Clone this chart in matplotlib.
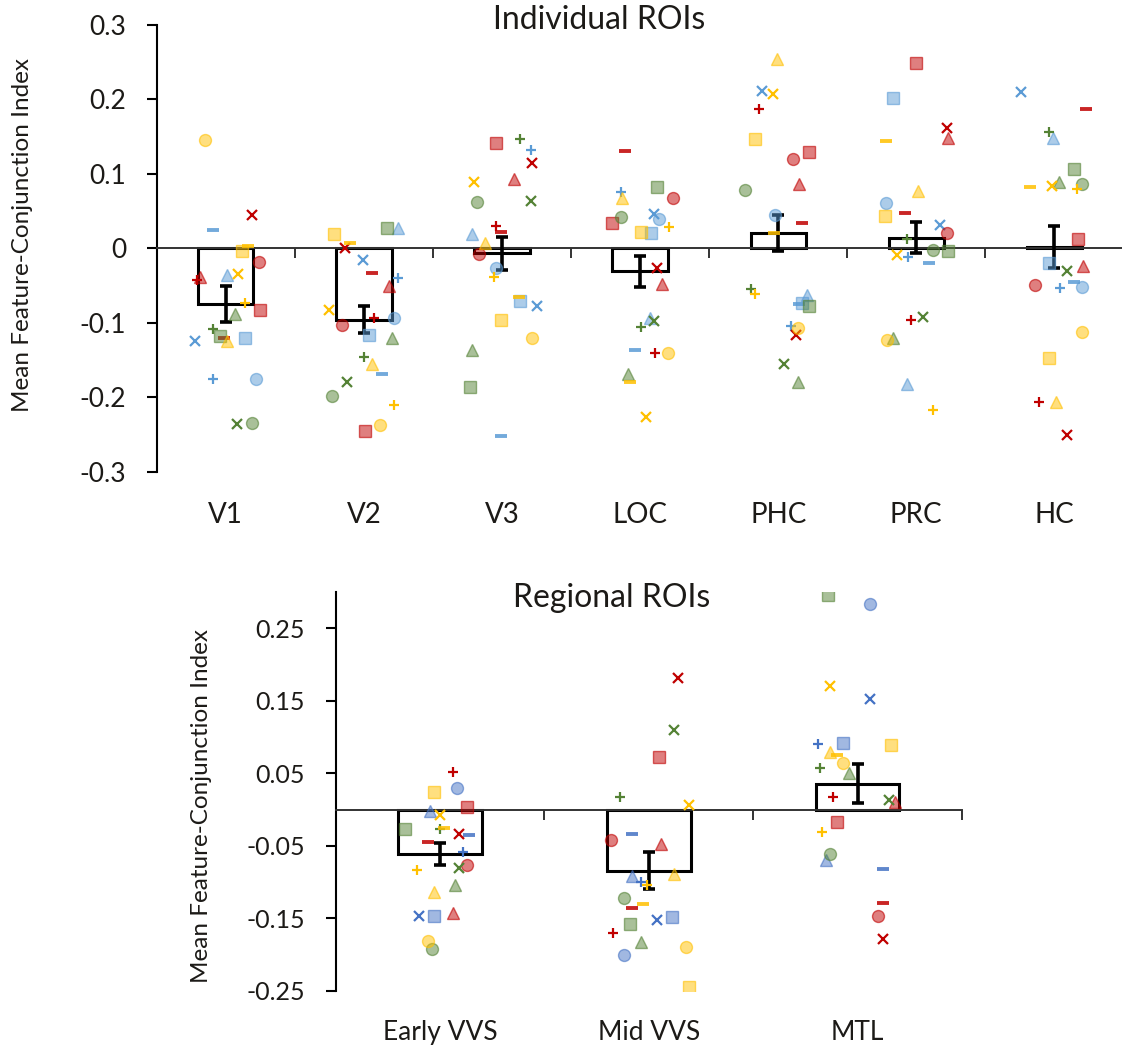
import numpy as np
import matplotlib
matplotlib.use("Agg")
import matplotlib.pyplot as plt
from matplotlib.colors import to_rgba
from matplotlib.transforms import blended_transform_factory

plt.rcParams["font.family"] = ["Lato", "DejaVu Sans"]
plt.rcParams["axes.unicode_minus"] = False
TEXT = "#1c1a17"

# ---- data ----
individual_rois = ["V1", "V2", "V3", "LOC", "PHC", "PRC", "HC"]
regional_rois = ["Early VVS", "Mid VVS", "MTL"]

individual_means = [-0.075, -0.096, -0.007, -0.031, 0.020, 0.014, 0.002]
individual_sems = [0.024, 0.018, 0.022, 0.021, 0.024, 0.021, 0.028]
regional_means = [-0.061, -0.084, 0.036]
regional_sems = [0.015, 0.025, 0.027]

individual_yticks = [-0.3, -0.2, -0.1, 0, 0.1, 0.2, 0.3]
individual_ylabels = ["-0.3", "-0.2", "-0.1", "0", "0.1", "0.2", "0.3"]
regional_yticks = [-0.25, -0.15, -0.05, 0.05, 0.15, 0.25]
regional_ylabels = ["-0.25", "-0.15", "-0.05", "0.05", "0.15", "0.25"]

# 23 participants, each with its own colour + marker
subj_colors = ["blue"] * 6 + ["red"] * 6 + ["green"] * 5 + ["yellow"] * 6
subj_markers = (["o", "s", "^", "x", "+", "_"] * 2
                + ["o", "s", "^", "x", "+"]
                + ["o", "s", "^", "x", "+", "_"])

# participant scores per ROI (order: blue o s ^ x + _, red o s ^ x + _,
# green o s ^ x +, yellow o s ^ x + _)
v1 = [-0.176, -0.120, -0.036, -0.124, -0.176, 0.024,
      -0.019, -0.083, -0.039, 0.044, -0.043, -0.120,
      -0.234, -0.118, -0.089, -0.236, -0.108,
      0.145, -0.004, -0.124, -0.034, -0.073, 0.003]
v2 = [-0.094, -0.116, 0.027, -0.016, -0.040, -0.169,
      -0.103, -0.246, -0.051, 0.000, -0.094, -0.033,
      -0.198, 0.027, -0.120, -0.180, -0.146,
      -0.237, 0.019, -0.155, -0.083, -0.210, 0.007]
v3 = [-0.026, -0.071, 0.019, -0.078, 0.132, -0.252,
      -0.008, 0.141, 0.093, 0.114, 0.030, 0.022,
      0.062, -0.186, -0.136, 0.063, 0.146,
      -0.120, -0.096, 0.007, 0.089, -0.039, -0.066]
loc = [0.039, 0.021, -0.094, 0.046, 0.075, -0.137,
       0.067, 0.034, -0.048, -0.027, -0.141, 0.131,
       0.042, 0.082, -0.169, -0.098, -0.106,
       -0.141, 0.022, 0.067, -0.226, 0.029, -0.180]
phc = [0.045, -0.073, -0.063, 0.211, -0.105, -0.075,
       0.120, 0.129, 0.086, -0.117, 0.187, 0.034,
       0.078, -0.078, -0.179, -0.156, -0.055,
       -0.107, 0.147, 0.254, 0.207, -0.061, 0.020]
prc = [0.061, 0.202, -0.182, 0.031, -0.012, -0.020,
       0.020, 0.249, 0.148, 0.161, -0.097, 0.047,
       -0.003, -0.004, -0.121, -0.093, 0.013,
       -0.123, 0.043, 0.077, -0.009, -0.217, 0.144]
hc = [-0.052, -0.020, 0.148, 0.210, -0.054, -0.046,
      -0.050, 0.013, -0.024, -0.251, -0.206, 0.187,
      0.086, 0.106, 0.089, -0.031, 0.156,
      -0.113, -0.148, -0.207, 0.084, 0.079, 0.082]
early_vvs = [0.030, -0.147, -0.002, -0.146, -0.058, -0.035,
             -0.076, 0.004, -0.143, -0.033, 0.052, -0.045,
             -0.192, -0.027, -0.104, -0.081, -0.027,
             -0.181, 0.025, -0.114, -0.008, -0.083, -0.025]
mid_vvs = [-0.200, -0.148, -0.092, -0.152, -0.100, -0.034,
           -0.042, 0.072, -0.048, 0.182, -0.170, -0.135,
           -0.122, -0.157, -0.182, 0.110, 0.017,
           -0.190, -0.244, -0.088, 0.006, -0.104, -0.130]
mtl = [0.284, 0.092, -0.069, 0.153, 0.090, -0.082,
       -0.147, -0.017, 0.011, -0.179, 0.017, -0.128,
       -0.061, 0.296, 0.050, 0.014, 0.057,
       0.065, 0.089, 0.079, 0.170, -0.031, 0.076]

# horizontal jitter of each marker (fraction of category width)
v1_jit = [0.22, 0.14, 0.01, -0.22, -0.09, -0.09,
          0.24, 0.25, -0.19, 0.19, -0.21, -0.01,
          0.19, -0.04, 0.07, 0.08, -0.09,
          -0.15, 0.12, 0.01, 0.09, 0.14, 0.16]
v2_jit = [0.22, 0.04, 0.25, -0.01, 0.25, 0.13,
          -0.16, 0.01, 0.18, -0.14, 0.07, 0.06,
          -0.23, 0.17, 0.20, -0.12, 0.00,
          0.12, -0.22, 0.06, -0.25, 0.22, -0.10]
v3_jit = [-0.04, 0.13, -0.22, 0.25, 0.21, -0.01,
          -0.17, -0.04, 0.09, 0.22, -0.04, -0.01,
          -0.18, -0.23, -0.22, 0.21, 0.13,
          0.22, -0.01, -0.12, -0.20, -0.06, 0.12]
loc_jit = [0.14, 0.08, 0.07, 0.10, -0.14, -0.04,
           0.24, -0.20, 0.16, 0.12, 0.11, -0.11,
           -0.14, 0.12, -0.09, 0.10, 0.01,
           0.20, 0.01, -0.13, 0.04, 0.21, -0.07]
phc_jit = [-0.02, 0.17, 0.21, -0.12, 0.09, 0.15,
           0.11, 0.22, 0.15, 0.13, -0.14, 0.17,
           -0.24, 0.22, 0.14, 0.04, -0.20,
           0.14, -0.17, -0.01, -0.04, -0.17, -0.03]
prc_jit = [-0.22, -0.17, -0.07, 0.17, -0.06, 0.09,
           0.22, 0.00, 0.23, 0.22, -0.04, -0.08,
           0.12, 0.23, -0.17, 0.05, -0.07,
           -0.21, -0.23, 0.01, -0.14, 0.12, -0.22]
hc_jit = [0.20, -0.04, -0.01, -0.24, 0.04, 0.14,
          -0.14, 0.17, 0.21, 0.09, -0.11, 0.23,
          0.20, 0.14, 0.03, 0.09, -0.04,
          0.20, -0.04, 0.01, -0.02, 0.16, -0.18]
early_jit = [0.08, -0.03, -0.05, -0.10, 0.11, 0.14,
             0.13, 0.13, 0.06, 0.09, 0.06, -0.06,
             -0.04, -0.17, 0.07, 0.09, 0.00,
             -0.06, -0.03, -0.03, 0.00, -0.11, 0.02]
mid_jit = [-0.12, 0.11, -0.08, 0.04, -0.04, -0.08,
           -0.18, 0.05, 0.06, 0.14, -0.17, -0.08,
           -0.12, -0.09, -0.04, 0.12, -0.14,
           0.18, 0.19, 0.12, 0.19, -0.01, -0.03]
mtl_jit = [0.06, -0.07, -0.15, 0.06, -0.19, 0.12,
           0.10, -0.10, 0.18, 0.12, -0.12, 0.12,
           -0.13, -0.14, -0.04, 0.15, -0.18,
           -0.07, 0.16, -0.13, -0.13, -0.17, -0.10]

top_palette = {"blue": "#5B9BD5", "red": "#C00000", "green": "#548235", "yellow": "#FFC000"}
bottom_palette = {"blue": "#4472C4", "red": "#C00000", "green": "#548235", "yellow": "#FFC000"}


def draw_panel(ax, rois, means, sems, scores, jitter, palette, ylim, yticks, ylabels):
    x = np.arange(len(rois)) + 0.5
    ax.bar(x, means, width=0.4, facecolor="white", edgecolor="black", linewidth=2.2, zorder=2)
    ax.errorbar(x, means, yerr=sems, fmt="none", ecolor="black", elinewidth=2.6,
                capsize=4.5, capthick=2.6, zorder=3)
    for ci in range(len(rois)):
        for si, m in enumerate(subj_markers):
            col = palette[subj_colors[si]]
            xi = x[ci] + jitter[ci][si]
            yi = scores[ci][si]
            if m in "os^":
                ms = 8.0 if m == "s" else 8.6
                ax.plot(xi, yi, marker=m, ms=ms, ls="none", mfc=to_rgba(col, 0.5),
                        mec=to_rgba(col, 0.6), mew=1.0, zorder=4)
            elif m == "_":
                ax.plot(xi, yi, marker="_", ms=8.5, mew=2.8, ls="none",
                        color=to_rgba(col, 0.85), zorder=4)
            else:
                ax.plot(xi, yi, marker=m, ms=7.8, mew=1.6, ls="none", color=col, zorder=4)

    ax.set_xlim(0, len(rois))
    ax.set_ylim(*ylim)
    for s in ["top", "right"]:
        ax.spines[s].set_visible(False)
    ax.spines["left"].set_linewidth(1.5)
    ax.spines["bottom"].set_position(("data", 0))
    ax.spines["bottom"].set_linewidth(1.4)
    ax.spines["bottom"].set_color("#333333")
    ax.set_xticks(np.arange(1, len(rois) + 1))
    ax.set_xticklabels([])
    ax.tick_params(axis="x", direction="out", length=7, width=1.4, color="#333333")
    ax.set_yticks(yticks)
    ax.set_yticklabels(ylabels)
    ax.tick_params(axis="y", direction="out", length=7, width=1.5, pad=15)
    trans = blended_transform_factory(ax.transData, ax.transAxes)
    return x, trans


fig = plt.figure(figsize=(11.22, 10.51), dpi=100)

ax1 = fig.add_axes([0.1397, 0.5512, 0.8616, 0.4253])
x1, tr1 = draw_panel(ax1, individual_rois, individual_means, individual_sems,
                     [v1, v2, v3, loc, phc, prc, hc],
                     [v1_jit, v2_jit, v3_jit, loc_jit, phc_jit, prc_jit, hc_jit],
                     top_palette, (-0.3, 0.3), individual_yticks, individual_ylabels)
for lab in ax1.get_yticklabels():
    lab.set_fontsize(19)
    lab.set_color(TEXT)
for xi, name in zip(x1, individual_rois):
    ax1.text(xi, -0.097, name, transform=tr1, ha="center", va="center", fontsize=20, color=TEXT)

ax2 = fig.add_axes([0.2992, 0.0571, 0.5582, 0.3795])
x2, tr2 = draw_panel(ax2, regional_rois, regional_means, regional_sems,
                     [early_vvs, mid_vvs, mtl], [early_jit, mid_jit, mtl_jit],
                     bottom_palette, (-0.25, 0.3), regional_yticks, regional_ylabels)
for lab in ax2.get_yticklabels():
    lab.set_fontsize(18)
    lab.set_color(TEXT)
for xi, name in zip(x2, regional_rois):
    ax2.text(xi, -0.103, name, transform=tr2, ha="center", va="center", fontsize=19, color=TEXT)

fig.text(599 / 1122, 1 - 20 / 1051, "Individual ROIs", ha="center", va="center", fontsize=23, color=TEXT)
fig.text(612 / 1122, 1 - 598 / 1051, "Regional ROIs", ha="center", va="center", fontsize=23, color=TEXT)
fig.text(23 / 1122, 1 - 235 / 1051, "Mean Feature-Conjunction Index", rotation=90,
         ha="center", va="center", fontsize=17.5, color=TEXT)
fig.text(201 / 1122, 1 - 806 / 1051, "Mean Feature-Conjunction Index", rotation=90,
         ha="center", va="center", fontsize=17.5, color=TEXT)

fig.savefig("out.png", dpi=100)
